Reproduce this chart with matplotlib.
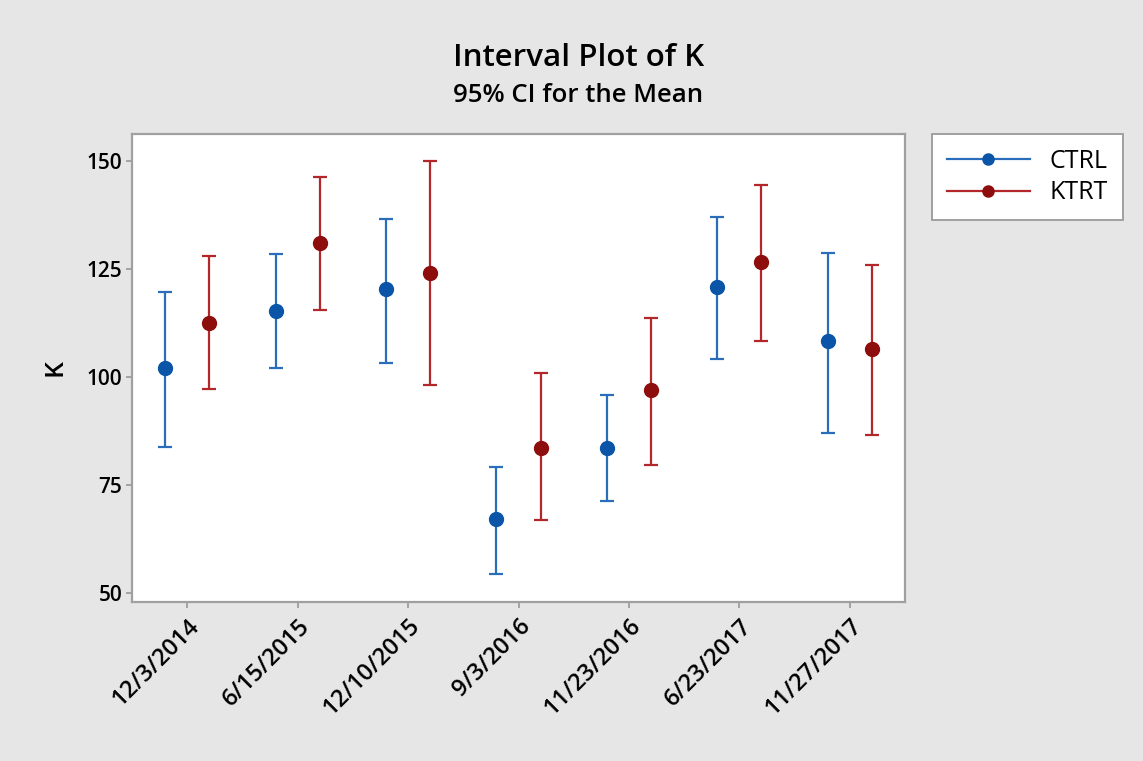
import matplotlib.pyplot as plt
import numpy as np

plt.rcParams['font.family'] = ['Open Sans', 'DejaVu Sans']

# data
dates = ['12/3/2014', '6/15/2015', '12/10/2015', '9/3/2016',
         '11/23/2016', '6/23/2017', '11/27/2017']
ctrl_mean = [102.0, 115.3, 120.3, 67.2, 83.6, 120.9, 108.4]
ctrl_low = [83.9, 102.2, 103.2, 54.5, 71.4, 104.2, 87.1]
ctrl_high = [119.7, 128.4, 136.6, 79.1, 95.8, 137.1, 128.8]
ktrt_mean = [112.6, 131.1, 124.1, 83.7, 96.9, 126.7, 106.5]
ktrt_low = [97.2, 115.6, 98.1, 67.0, 79.7, 108.3, 86.6]
ktrt_high = [127.9, 146.3, 150.0, 100.9, 113.7, 144.5, 125.8]

bg = '#e6e6e6'
fig = plt.figure(figsize=(11.43, 7.61), dpi=100, facecolor=bg)
ax = fig.add_axes([0.1155, 0.2093, 0.6763, 0.6146])
ax.set_facecolor('white')

x = np.arange(1, len(dates) + 1)
off = 0.2

def draw(xpos, mean, low, high, lc, mc, label):
    mean = np.array(mean)
    err = [mean - np.array(low), np.array(high) - mean]
    ax.errorbar(xpos, mean, yerr=err, fmt='none', ecolor=lc,
                elinewidth=1.6, capsize=4.7, capthick=1.6, zorder=2)
    ax.plot(xpos, mean, 'o', color=mc, markersize=10, zorder=3)
    return ax.plot([], [], '-o', color=lc, mfc=mc, mec=mc,
                   markersize=8, lw=1.6, label=label)[0]

h1 = draw(x - off, ctrl_mean, ctrl_low, ctrl_high, '#2a6ebb', '#0a55a8', 'CTRL')
h2 = draw(x + off, ktrt_mean, ktrt_low, ktrt_high, '#b3262a', '#8e0d0d', 'KTRT')

ax.set_xlim(0.5, 7.5)
ax.set_ylim(48.06, 156.2)
ax.set_yticks([50, 75, 100, 125, 150])
ax.set_xticks(x)
ax.set_xticklabels(dates, rotation=45, ha='right', rotation_mode='anchor',
                   fontsize=17, fontweight='semibold')
for lab in ax.get_yticklabels():
    lab.set_fontsize(15)
    lab.set_fontweight('semibold')
ax.tick_params(axis='both', color='#999999', length=4, width=1.2, pad=3)
ax.tick_params(axis='x', pad=5)
for s in ax.spines.values():
    s.set_color('#a0a0a0')
    s.set_linewidth(1.6)

ax.set_ylabel('K', fontsize=19, fontweight='semibold', labelpad=14)

fig.text(0.506, 1 - 58 / 761, 'Interval Plot of K', ha='center', va='center',
         fontsize=22.5, fontweight='semibold')
fig.text(0.506, 1 - 96 / 761, '95% CI for the Mean', ha='center', va='center',
         fontsize=18.5, fontweight='semibold')

leg = fig.legend(handles=[h1, h2], loc='upper left',
                 bbox_to_anchor=(932 / 1143, 1 - 134 / 761),
                 fontsize=18, frameon=True, fancybox=False,
                 handlelength=3.3, handletextpad=0.8, borderpad=0.6,
                 labelspacing=0.25, borderaxespad=0,
                 facecolor='white', framealpha=1)
leg.get_frame().set_edgecolor('#a0a0a0')
leg.get_frame().set_linewidth(1.4)

fig.savefig('out.png', dpi=100, facecolor=bg)
